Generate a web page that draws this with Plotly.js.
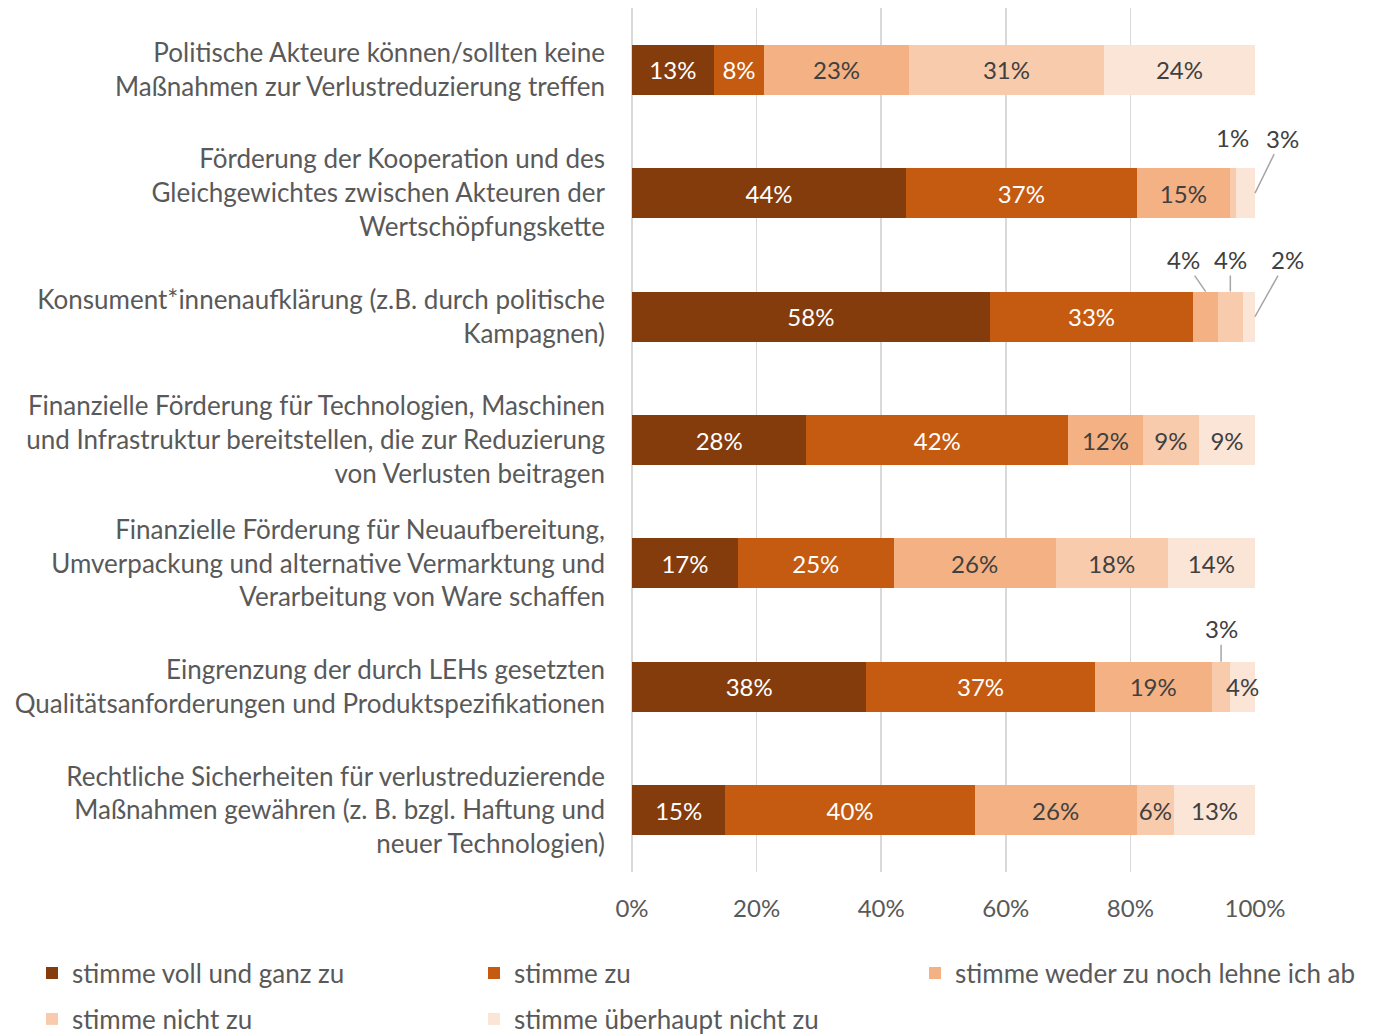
<!DOCTYPE html>
<html>
<head>
<meta charset="utf-8">
<script src="https://cdn.plot.ly/plotly-3.0.1.min.js"></script>
<style>html,body{margin:0;padding:0;background:#fff;}#chart{width:1378px;height:1035px;}</style>
</head>
<body>
<div id="chart"></div>
<script>
// ---- Data ----
const categories = [
  "Politische Akteure können/sollten keine<br>Maßnahmen zur Verlustreduzierung treffen",
  "Förderung der Kooperation und des<br>Gleichgewichtes zwischen Akteuren der<br>Wertschöpfungskette",
  "Konsument*innenaufklärung (z.B. durch politische<br>Kampagnen)",
  "Finanzielle Förderung für Technologien, Maschinen<br>und Infrastruktur bereitstellen, die zur Reduzierung<br>von Verlusten beitragen",
  "Finanzielle Förderung für Neuaufbereitung,<br>Umverpackung und alternative Vermarktung und<br>Verarbeitung von Ware schaffen",
  "Eingrenzung der durch LEHs gesetzten<br>Qualitätsanforderungen und Produktspezifikationen",
  "Rechtliche Sicherheiten für verlustreduzierende<br>Maßnahmen gewähren (z. B. bzgl. Haftung und<br>neuer Technologien)"
];
const seriesNames = [
  "stimme voll und ganz zu",
  "stimme zu",
  "stimme weder zu noch lehne ich ab",
  "stimme nicht zu",
  "stimme überhaupt nicht zu"
];
const vollUndGanz = [13, 44, 58, 28, 17, 38, 15];
const stimmeZu    = [ 8, 37, 33, 42, 25, 37, 40];
const weder       = [23, 15,  4, 12, 26, 19, 26];
const nichtZu     = [31,  1,  4,  9, 18,  3,  6];
const ueberhaupt  = [24,  3,  2,  9, 14,  4, 13];
const xTicks = [0, 20, 40, 60, 80, 100];

// ---- Styling ----
const series = [vollUndGanz, stimmeZu, weder, nichtZu, ueberhaupt];
const colors = ["#843C0C", "#C55A11", "#F4B183", "#F8CBAD", "#FBE5D6"];
const textColors = ["#FFFFFF", "#FFFFFF", "#404040", "#404040", "#404040"];
const FONT = "Lato, 'Open Sans', sans-serif";
const GREY = "#595959";

// labels drawn outside the bars with leader lines: [seriesIdx, rowIdx, mode, ax, ay]
const outside = [
  [3, 1, "none", -1, 56],
  [4, 1, "end", 27, -55],
  [2, 2, "top", -22, -32],
  [3, 2, "top", 0, -32],
  [4, 2, "end", 32, -57],
  [3, 5, "top", 0, -33]
];
const isOutside = (s, r) => outside.some(o => o[0] === s && o[1] === r);

const totals = categories.map((_, r) => series.reduce((a, s) => a + s[r], 0));
function segPos(s, r) {
  let before = 0;
  for (let k = 0; k < s; k++) before += series[k][r];
  const t = totals[r];
  return { start: before / t * 100, end: (before + series[s][r]) / t * 100 };
}

// one legend per entry so the two-row, three-column grid can be placed exactly
const legendIds = ["legend", "legend2", "legend3", "legend4", "legend5"];
const legendPos = [[72, 973], [514, 973], [955, 973], [72, 1019], [514, 1019]];

const traces = series.map((vals, s) => ({
  type: "bar",
  orientation: "h",
  name: seriesNames[s],
  y: categories,
  x: vals,
  text: vals.map((v, r) => isOutside(s, r) ? "" : v + "%"),
  textposition: "inside",
  insidetextanchor: "middle",
  textangle: 0,
  constraintext: "none",
  cliponaxis: false,
  textfont: { family: FONT, size: 24, color: textColors[s] },
  marker: { color: colors[s], line: { width: 0 } },
  legend: legendIds[s],
  showlegend: true,
  hoverinfo: "skip"
}));

const annotations = outside.map(([s, r, mode, ax, ay]) => {
  const p = segPos(s, r);
  const val = series[s][r] + "%";
  const base = {
    xref: "x", yref: "y", y: categories[r],
    text: val, font: { family: FONT, size: 24, color: "#404040" }
  };
  if (mode === "none") {
    return Object.assign(base, { x: (p.start + p.end) / 2, showarrow: false, xshift: ax, yshift: ay });
  }
  if (mode === "end") {
    return Object.assign(base, { x: p.end, showarrow: true, arrowhead: 0, arrowwidth: 1.5,
      arrowcolor: "#A6A6A6", standoff: 0, ax: ax, ay: ay });
  }
  return Object.assign(base, { x: (p.start + p.end) / 2, yshift: 25, showarrow: true, arrowhead: 0,
    arrowwidth: 1.5, arrowcolor: "#A6A6A6", standoff: 0, ax: ax, ay: ay });
});

const layout = {
  width: 1378,
  height: 1035,
  margin: { l: 632, r: 123, t: 8, b: 163, pad: 0 },
  paper_bgcolor: "#FFFFFF",
  plot_bgcolor: "#FFFFFF",
  showlegend: true,
  barmode: "stack",
  barnorm: "percent",
  bargap: 0.595,
  hovermode: false,
  uniformtext: { minsize: 24, mode: "show" },
  font: { family: FONT, color: GREY, size: 24 },
  xaxis: {
    range: [0, 100],
    tickvals: xTicks,
    ticktext: xTicks.map(v => v + "%"),
    showgrid: true,
    gridcolor: "#D9D9D9",
    gridwidth: 1.5,
    zeroline: true,
    zerolinecolor: "#D9D9D9",
    zerolinewidth: 1.5,
    showline: false,
    ticks: "",
    ticklabelstandoff: 20,
    tickfont: { family: FONT, size: 24, color: GREY },
    fixedrange: true
  },
  yaxis: {
    type: "category",
    autorange: "reversed",
    showgrid: false,
    zeroline: false,
    showline: false,
    ticks: "",
    ticklabelstandoff: 26,
    tickfont: { family: FONT, size: 26, color: GREY },
    fixedrange: true
  },
  annotations: annotations
};

legendIds.forEach((id, i) => {
  layout[id] = {
    visible: true,
    orientation: "h",
    xref: "container", yref: "container",
    x: (legendPos[i][0] - 40) / 1378,
    y: 1 - legendPos[i][1] / 1035,
    xanchor: "left", yanchor: "middle",
    font: { family: FONT, size: 26, color: GREY },
    bgcolor: "rgba(0,0,0,0)",
    borderwidth: 0
  };
});

Plotly.newPlot("chart", traces, layout, { displayModeBar: false, staticPlot: true });
</script>
</body>
</html>
